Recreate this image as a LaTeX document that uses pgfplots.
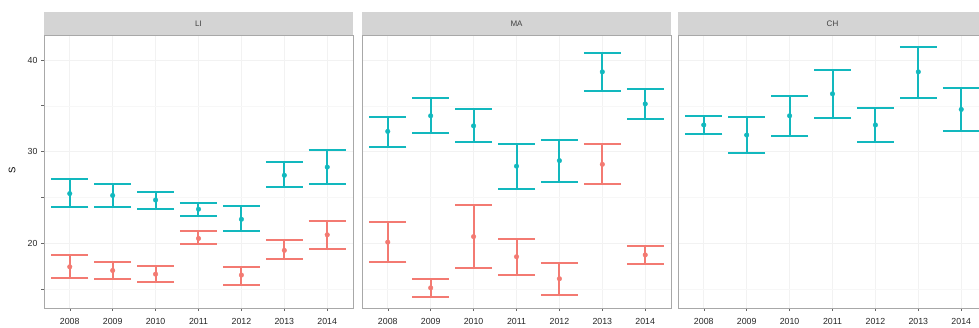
\documentclass[border=0pt]{standalone}
\usepackage{pgfplots}
\usepackage{pgfplotstable}
\pgfplotsset{compat=1.18}
\usepackage{fontspec}
\setmainfont{Liberation Sans}
\definecolor{gred}{HTML}{F37A72}
\definecolor{gcyan}{HTML}{12B8BE}
\definecolor{stripfill}{HTML}{D4D4D4}
\definecolor{panelborder}{HTML}{A8A8A8}
\definecolor{gridc}{HTML}{F2F2F2}

\pgfplotstableread{
x lo y hi
1 23.9 25.4 27.0
2 23.9 25.2 26.4
3 23.7 24.7 25.6
4 22.9 23.7 24.4
5 21.3 22.6 24.0
6 26.1 27.4 28.8
7 26.4 28.3 30.2
}\LIcyan
\pgfplotstableread{
x lo y hi
1 16.2 17.4 18.7
2 16.1 17.0 17.9
3 15.7 16.6 17.5
4 19.9 20.5 21.3
5 15.4 16.5 17.4
6 18.2 19.2 20.3
7 19.3 20.9 22.4
}\LIred
\pgfplotstableread{
x lo y hi
1 30.5 32.2 33.8
2 32.0 33.9 35.8
3 31.0 32.8 34.6
4 25.9 28.4 30.8
5 26.7 29.0 31.3
6 36.6 38.7 40.8
7 33.5 35.2 36.8
}\MAcyan
\pgfplotstableread{
x lo y hi
1 17.9 20.1 22.3
2 14.1 15.1 16.1
3 17.3 20.7 24.2
4 16.5 18.5 20.4
5 14.3 16.1 17.8
6 26.4 28.6 30.8
7 17.7 18.7 19.7
}\MAred
\pgfplotstableread{
x lo y hi
1 31.9 32.9 33.9
2 29.8 31.8 33.8
3 31.7 33.9 36.1
4 33.7 36.3 38.9
5 31.0 32.9 34.7
6 35.8 38.7 41.4
7 32.2 34.6 36.9
}\CHcyan

\pgfplotsset{
  facet/.style={
    scale only axis, width=309pt, height=273pt,
    xmin=0.4, xmax=7.6, ymin=12.9, ymax=42.73,
    xtick={1,...,7}, xticklabels={2008,2009,2010,2011,2012,2013,2014},
    ytick={20,30,40}, minor ytick={15,25,35},
    grid=both, major grid style={gridc, line width=0.6pt}, minor grid style={gridc!60, line width=0.4pt},
    axis line style={panelborder, line width=0.8pt},
    tick align=outside, tick pos=left, major tick length=3pt,
    tick style={black!60, line width=0.5pt},
    /pgf/number format/assume math mode=true,
    ticklabel style={font=\fontsize{8.8}{10}\selectfont, text=black!85},
    xticklabel style={yshift=-3.5pt},
    clip=false,
  },
  ebar/.style={only marks, mark=*, mark size=2.3pt, color=#1,
    error bars/.cd, y dir=both, y explicit,
    error bar style={line width=2pt, color=#1},
    error mark options={line width=2pt, mark size=18.5pt, color=#1, rotate=90}},
}

\newcommand{\strip}[1]{%
  \fill[stripfill] (rel axis cs:0,1) rectangle ([yshift=23pt]rel axis cs:1,1);
  \node[font=\fontsize{8}{9}\selectfont, text=black!75] at ([yshift=11.5pt]rel axis cs:0.5,1) {#1};
}

\begin{document}
\begin{tikzpicture}
\useasboundingbox (0pt,0pt) rectangle (979pt,327pt);

\begin{axis}[facet, at={(44pt,19pt)}, anchor=south west]
\strip{LI}
\addplot[ebar=gred] table[x=x, y=y, y error plus expr=\thisrow{hi}-\thisrow{y}, y error minus expr=\thisrow{y}-\thisrow{lo}] {\LIred};
\addplot[ebar=gcyan] table[x=x, y=y, y error plus expr=\thisrow{hi}-\thisrow{y}, y error minus expr=\thisrow{y}-\thisrow{lo}] {\LIcyan};
\end{axis}

\begin{axis}[facet, at={(362pt,19pt)}, anchor=south west, yticklabels={}, ytick style={draw=none}]
\strip{MA}
\addplot[ebar=gred] table[x=x, y=y, y error plus expr=\thisrow{hi}-\thisrow{y}, y error minus expr=\thisrow{y}-\thisrow{lo}] {\MAred};
\addplot[ebar=gcyan] table[x=x, y=y, y error plus expr=\thisrow{hi}-\thisrow{y}, y error minus expr=\thisrow{y}-\thisrow{lo}] {\MAcyan};
\end{axis}

\begin{axis}[facet, at={(678pt,19pt)}, anchor=south west, yticklabels={}, ytick style={draw=none}]
\strip{CH}
\addplot[ebar=gcyan] table[x=x, y=y, y error plus expr=\thisrow{hi}-\thisrow{y}, y error minus expr=\thisrow{y}-\thisrow{lo}] {\CHcyan};
\end{axis}

\node[rotate=90, font=\fontsize{9.5}{10}\selectfont] at (12pt,157pt) {S};
\end{tikzpicture}
\end{document}
